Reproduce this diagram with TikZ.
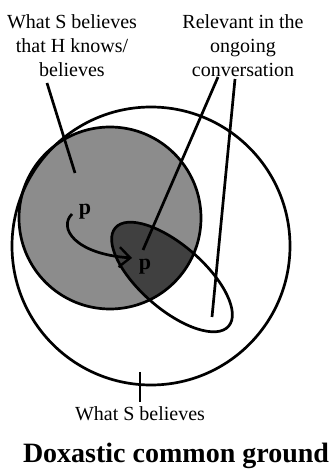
\documentclass[tikz,border=0pt]{standalone}
\usepackage{fontspec}
\setmainfont{Liberation Serif}
\usetikzlibrary{arrows.meta}

\definecolor{hgray}{gray}{0.55}
\definecolor{cgray}{gray}{0.25}

\begin{document}
\begin{tikzpicture}[x=1pt, y=1pt,
    outline/.style={line width=2.7pt, black},
    lbl/.style={font=\fontsize{20}{24}\selectfont, align=center, inner sep=0pt},
    pmark/.style={font=\fontsize{22}{22}\selectfont\bfseries, inner sep=0pt, anchor=base}
]
\useasboundingbox (0,0) rectangle (333,469);

% sets
\fill[hgray] (110,251) circle (91);
\begin{scope}
    \clip (172,192) ellipse[x radius=75, y radius=32, rotate=-41];
    \fill[cgray] (110,251) circle (91);
\end{scope}
\draw[outline] (110,251) circle (91);
\draw[outline] (151,223) circle (139);
\draw[outline] (172,192) ellipse[x radius=75, y radius=32, rotate=-41];

% labels
\node[lbl, anchor=north] (hknows)   at (72,455) {What S believes\\that H knows/\\believes};
\node[lbl, anchor=north] (relevant) at (243,455) {Relevant in the\\ongoing\\conversation};
\node[lbl, anchor=base]  (sbel)     at (140,48) {What S believes};
\node[font=\fontsize{28}{30}\selectfont\bfseries, anchor=base, inner sep=0pt]
    (title) at (176,6) {Doxastic common ground};

% p and its move
\node[pmark] (p1) at (85,254) {p};
\node[pmark] (p2) at (145,199) {p};
\coordinate (pfrom) at (72,255);
\coordinate (pto)   at (132,211);
\draw[outline, -{Straight Barb[length=11pt, width=20pt, line width=2.4pt]}]
    (pfrom) .. controls (58,241) and (75,215) .. (pto);

% pointer lines
\coordinate (hk1) at (47,386);  \coordinate (hk2) at (75,296);
\coordinate (rl1) at (218,392); \coordinate (rl2) at (143,219);
\coordinate (rr1) at (235,390); \coordinate (rr2) at (212,152);
\coordinate (sb1) at (140,97);  \coordinate (sb2) at (140,67);
\draw[outline] (hk1) -- (hk2);
\draw[outline] (rl1) -- (rl2);
\draw[outline] (rr1) -- (rr2);
\draw[outline] (sb1) -- (sb2);
\end{tikzpicture}
\end{document}
